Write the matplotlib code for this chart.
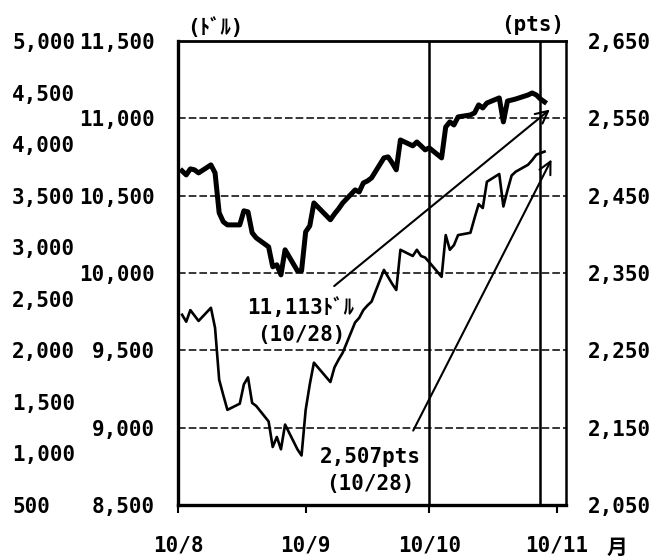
import numpy as np
import pandas as pd
import matplotlib
matplotlib.use('Agg')
import matplotlib.pyplot as plt

plt.rcParams['font.family'] = ['DejaVu Sans Mono', 'Noto Sans CJK JP']
plt.rcParams['font.size'] = 15
plt.rcParams['font.weight'] = 'bold'

# trading days Aug 2 - Oct 29 2010 (Labor Day closed)
dates = pd.bdate_range('2010-08-02', '2010-10-29', freq='C', holidays=['2010-09-06'])

dow = [10660, 10634, 10673, 10667, 10647, 10699, 10647, 10389, 10331, 10311, 10311,
       10402, 10395, 10260, 10227, 10169, 10040, 10053, 9988, 10150, 10014, 10014,
       10266, 10305, 10453, 10344, 10382, 10415, 10453, 10537, 10524, 10582, 10595,
       10615, 10744, 10751, 10712, 10667, 10860, 10822, 10847, 10822, 10796,
       10809, 10744, 10944, 10977, 10957, 11009, 11022, 11035, 11087, 11067, 11099,
       11132, 10977, 11112, 11118, 11125, 11151, 11164, 11151, 11125, 11106]

nasdaq = [2296, 2287, 2302, 2295, 2288, 2305, 2279, 2212, 2192, 2173, 2181,
          2206, 2215, 2182, 2178, 2158, 2125, 2138, 2122, 2154, 2122, 2114,
          2173, 2206, 2234, 2209, 2228, 2238, 2247, 2286, 2292, 2302, 2308,
          2313, 2354, 2345, 2336, 2328, 2380, 2372, 2380, 2372, 2370,
          2364, 2345, 2399, 2380, 2386, 2399, 2402, 2421, 2439, 2434, 2468,
          2478, 2436, 2457, 2476, 2481, 2490, 2496, 2503, 2505, 2507]

dow_ticks = [8500, 9000, 9500, 10000, 10500, 11000, 11500]
outer_ticks = [500, 1000, 1500, 2000, 2500, 3000, 3500, 4000, 4500, 5000]
pts_ticks = [2050, 2150, 2250, 2350, 2450, 2550, 2650]
month_ticks = pd.to_datetime(['2010-08-01', '2010-09-01', '2010-10-01', '2010-11-01'])
month_labels = ['10/8', '10/9', '10/10', '10/11']
mark_dates = pd.to_datetime(['2010-10-01', '2010-10-28'])

fig = plt.figure(figsize=(6.51, 5.57), dpi=100)
ax = fig.add_axes([0.2734, 0.0934, 0.596, 0.833])

ax.plot(dates, dow, color='black', lw=3.6, solid_joinstyle='round', zorder=3)
ax.set_ylim(8500, 11500)
ax.set_yticks(dow_ticks)
ax.set_yticklabels([f'{v:,}' for v in dow_ticks])
ax.set_xlim(pd.Timestamp('2010-08-01'), pd.Timestamp('2010-08-01') + pd.Timedelta(days=94.2))
ax.set_xticks(month_ticks)
ax.set_xticklabels(month_labels)
ax.tick_params(axis='y', length=0, pad=16.6)
ax.tick_params(axis='x', length=6, width=1.5, direction='out', pad=16)
ax.yaxis.grid(True, color='black', lw=1.1, linestyle=(0, (5, 2)))
for d in mark_dates:
    ax.axvline(d, color='black', lw=1.8)
ax.spines['left'].set_linewidth(2.4)
ax.spines['bottom'].set_linewidth(2.4)
ax.spines['top'].set_linewidth(2.0)
ax.spines['right'].set_linewidth(1.8)

ax2 = ax.twinx()
ax2.plot(dates, nasdaq, color='black', lw=1.9, zorder=3)
ax2.set_ylim(2050, 2650)
ax2.set_yticks(pts_ticks)
ax2.set_yticklabels([f'{v:,}' for v in pts_ticks])
ax2.tick_params(axis='y', length=0, pad=15.8)
for s in ax2.spines.values():
    s.set_visible(False)

# outer scale on far left
ax3 = ax.twinx()
ax3.yaxis.set_ticks_position('left')
ax3.spines['left'].set_position(('outward', 119.5))
for s in ax3.spines.values():
    s.set_visible(False)
ax3.set_ylim(500, 5000)
ax3.set_yticks(outer_ticks)
ax3.set_yticklabels([f'{v:,}' for v in outer_ticks], ha='left')
ax3.tick_params(axis='y', length=0, pad=0, labelleft=True, labelright=False)

arrow = dict(arrowstyle='->', lw=1.5, color='black', mutation_scale=22)
ax.annotate('', xy=(0.964, 0.856), xytext=(0.397, 0.468),
            xycoords='axes fraction', textcoords='axes fraction', arrowprops=arrow)
ax.annotate('', xy=(0.966, 0.750), xytext=(0.603, 0.155),
            xycoords='axes fraction', textcoords='axes fraction', arrowprops=arrow)
ax.text(0.317, 0.397, '11,113ﾄﾞﾙ\n(10/28)', transform=ax.transAxes,
        ha='center', va='center', multialignment='center', linespacing=1.45)
ax.text(0.495, 0.075, '2,507pts\n(10/28)', transform=ax.transAxes,
        ha='center', va='center', multialignment='center', linespacing=1.45)

ax.text(0.095, 1.028, '(ﾄﾞﾙ)', transform=ax.transAxes, ha='center', va='center')
ax.text(0.915, 1.034, '(pts)', transform=ax.transAxes, ha='center', va='center')
ax.text(1.131, -0.093, '月', transform=ax.transAxes, ha='center', va='center')

fig.savefig('out.png', dpi=100)
